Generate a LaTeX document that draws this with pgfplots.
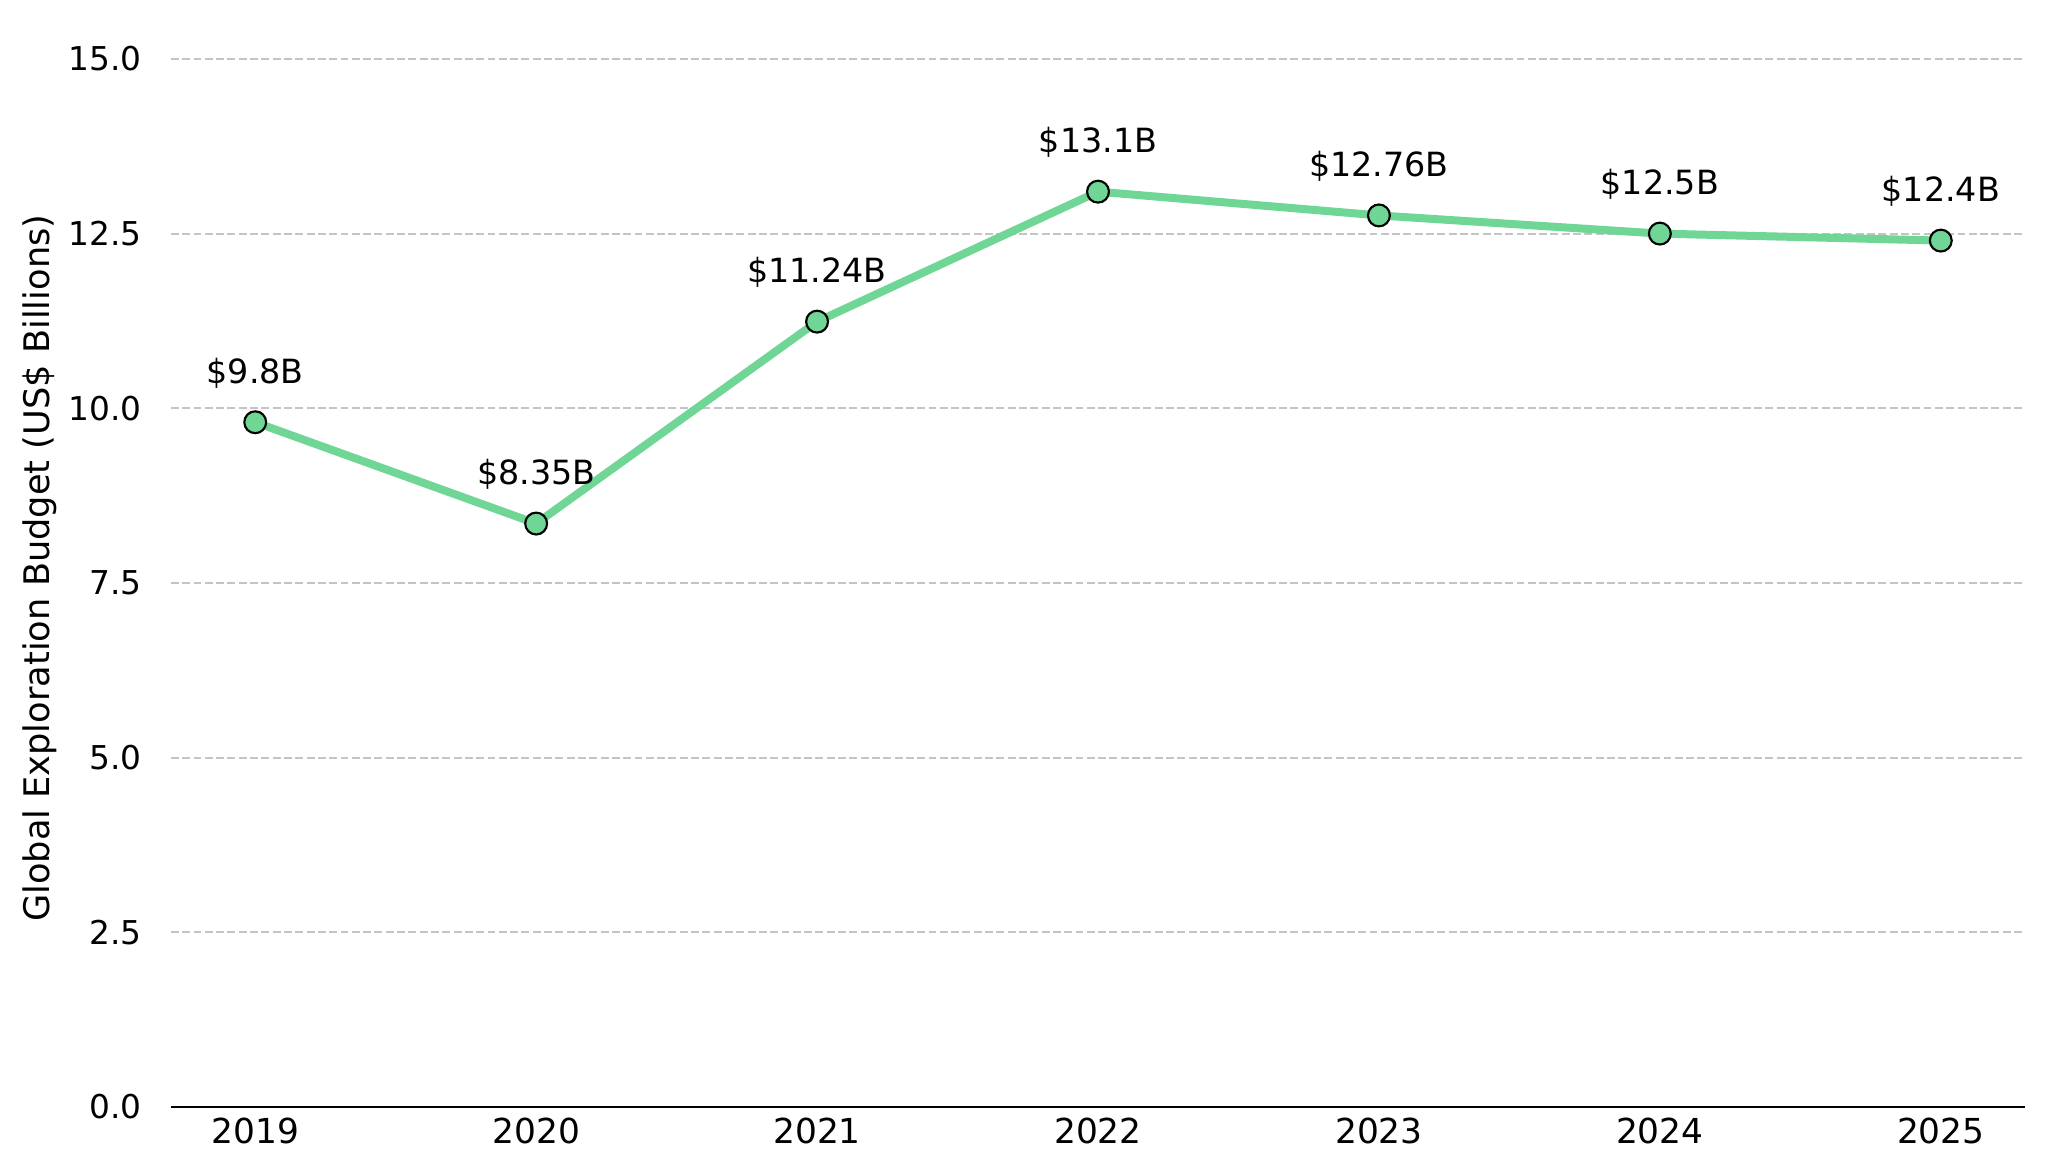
\documentclass[border=0pt]{standalone}
\usepackage{pgfplots}
\pgfplotsset{compat=1.18}
\usepackage{fontspec}
\setmainfont{DejaVu Sans}

\definecolor{linegreen}{HTML}{6FD696}
\definecolor{gridgray}{HTML}{C4C4C4}

\begin{document}
\begin{tikzpicture}
\begin{axis}[
    name=main,
    scale only axis,
    width=695.25pt, height=393pt,
    xmin=2018.7, xmax=2025.3,
    ymin=0, ymax=15,
    xtick={2019,2020,2021,2022,2023,2024,2025},
    xticklabels={2019,2020,2021,2022,2023,2024,2025},
    ytick={0,2.5,5,7.5,10,12.5,15},
    yticklabel={\pgfmathprintnumber[fixed,fixed zerofill,precision=1]{\tick}},
    /pgf/number format/assume math mode=true,
    axis x line*=bottom,
    axis y line*=left,
    y axis line style={draw=none},
    x axis line style={line width=1.1pt, black},
    major tick length=0pt,
    ymajorgrids,
    grid style={gridgray, line width=0.75pt, dash pattern=on 2.96pt off 1.28pt},
    xticklabel style={inner sep=0pt, yshift=-4.1pt, font=\fontsize{12.9}{15}\selectfont},
    yticklabel style={inner sep=0pt, xshift=-10.9pt, font=\fontsize{12.3}{14}\selectfont},
    ylabel={Global Exploration Budget (US\$ Billions)},
    every axis y label/.style={at={(axis description cs:-0.071,0.514)}, rotate=90, anchor=center, font=\fontsize{13.2}{15}\selectfont},
    clip=false,
    point meta=explicit symbolic,
    nodes near coords,
    every node near coord/.append style={anchor=base, inner sep=0pt, yshift=14.6pt, black, font=\fontsize{12.5}{15}\selectfont},
]
\addplot[linegreen, line width=3pt, mark=*, mark size=4.1pt,
    mark options={fill=linegreen, draw=black, line width=0.8pt}]
    coordinates {
    (2019,9.8)   [\$9.8B]
    (2020,8.35)  [\$8.35B]
    (2021,11.24) [\$11.24B]
    (2022,13.1)  [\$13.1B]
    (2023,12.76) [\$12.76B]
    (2024,12.5)  [\$12.5B]
    (2025,12.4)  [\$12.4B]
    };
\end{axis}
\pgfresetboundingbox
\useasboundingbox ([xshift=-64.1pt,yshift=-25.1pt]main.south west) rectangle ([xshift=8.6pt,yshift=22.1pt]main.north east);
\end{tikzpicture}
\end{document}
